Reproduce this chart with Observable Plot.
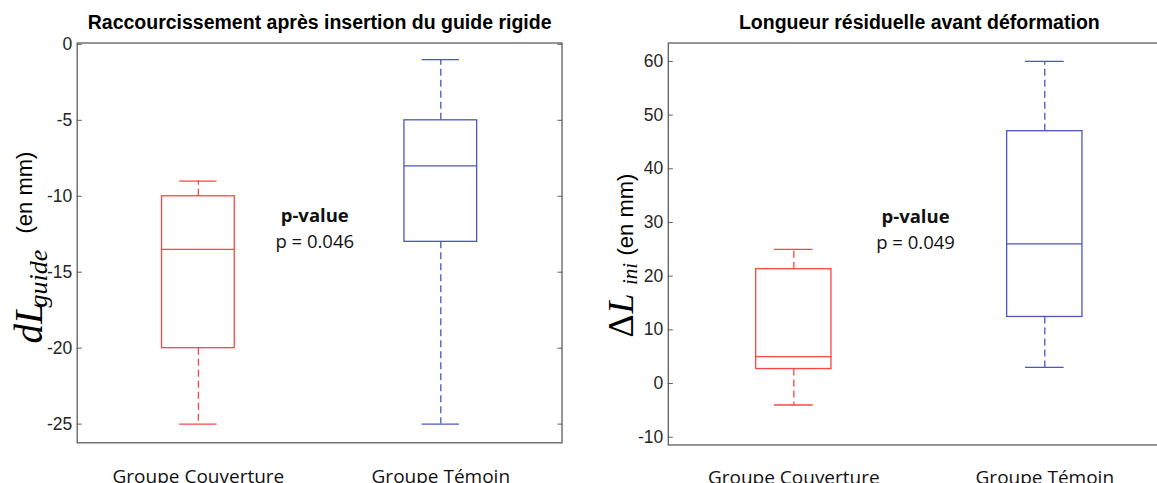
<!DOCTYPE html>
<html><head><meta charset="utf-8">
<script src="https://cdn.jsdelivr.net/npm/d3@7"></script>
<script src="https://cdn.jsdelivr.net/npm/@observablehq/plot@0.6"></script>
<style>
html,body{margin:0;padding:0;background:#fff;overflow:hidden;width:1157px;height:483px;}
#wrap{position:relative;width:1157px;height:483px;overflow:hidden;background:#fff;}
#left{position:absolute;left:0;top:0;width:580px;height:483px;}
#right{position:absolute;left:580px;top:0;width:600px;height:483px;}
#wrap svg{max-width:none !important;}
</style></head><body><div id="wrap"><div id="left"></div><div id="right"></div></div>
<script>
// ---- shared ----
const categories = ["Groupe Couverture", "Groupe Témoin"];
const colors = ["#ff4444", "#4a56c2"];

// ---- panel 1 : dL_guide ----
const guideTitle = "Raccourcissement après insertion du guide rigide";
const guideLower  = [-25, -25];
const guideQ1     = [-20, -13];
const guideMedian = [-13.5, -8];
const guideQ3     = [-10, -5];
const guideUpper  = [-9, -1];
const guideTicks  = [0, -5, -10, -15, -20, -25];
const guidePLabel = "p-value";
const guidePValue = "p = 0.046";

// ---- panel 2 : ΔL_ini ----
const iniTitle = "Longueur résiduelle avant déformation";
const iniLower  = [-4, 3];
const iniQ1     = [2.7, 12.4];
const iniMedian = [5, 26];
const iniQ3     = [21.3, 47];
const iniUpper  = [25, 60];
const iniTicks  = [60, 50, 40, 30, 20, 10, 0, -10];
const iniPLabel = "p-value";
const iniPValue = "p = 0.049";

const SANS = "'Liberation Sans', Arial, sans-serif";
const CAL = "'Open Sans', sans-serif";
const SERIF = "'Liberation Serif', 'Times New Roman', serif";
const AXIS = "#5e5e5e";

function panel(cfg) {
  const rows = categories.map((cat, i) => ({
    cat, pos: i + 1,
    lower: cfg.lower[i], q1: cfg.q1[i], median: cfg.median[i], q3: cfg.q3[i], upper: cfg.upper[i]
  }));
  const half = 0.15, cap = 0.077;
  const sw = 1.3;
  const svg = Plot.plot({
    width: cfg.width, height: 483,
    marginLeft: cfg.marginLeft, marginRight: cfg.marginRight,
    marginTop: 42.5, marginBottom: cfg.marginBottom,
    x: {type: "linear", domain: [0.5, 2.5], axis: null},
    y: {domain: cfg.yDomain, label: null},
    color: {domain: categories, range: colors},
    style: {fontFamily: SANS, fontSize: "16px", background: "white", overflow: "visible", maxWidth: "none"},
    marks: [
      Plot.ruleX(rows, {x: "pos", y1: "q3", y2: "upper", stroke: "cat", strokeWidth: sw, strokeDasharray: "7,4"}),
      Plot.ruleX(rows, {x: "pos", y1: "q1", y2: "lower", stroke: "cat", strokeWidth: sw, strokeDasharray: "7,4"}),
      Plot.ruleY(rows, {y: "upper", x1: d => d.pos - cap, x2: d => d.pos + cap, stroke: "cat", strokeWidth: sw}),
      Plot.ruleY(rows, {y: "lower", x1: d => d.pos - cap, x2: d => d.pos + cap, stroke: "cat", strokeWidth: sw}),
      Plot.rect(rows, {x1: d => d.pos - half, x2: d => d.pos + half, y1: "q1", y2: "q3", stroke: "cat", fill: "none", strokeWidth: sw}),
      Plot.ruleY(rows, {y: "median", x1: d => d.pos - half, x2: d => d.pos + half, stroke: "cat", strokeWidth: sw}),
      Plot.frame({stroke: AXIS, strokeWidth: 1.3}),
      Plot.axisY(cfg.ticks, {anchor: "left", tickSize: 0, tickPadding: 5, tickFormat: d => String(d), fontSize: 17.5, fill: "#262626", label: null}),
      Plot.axisY(cfg.ticks, {anchor: "left", tickSize: 5, dx: 5, tickFormat: () => "", label: null, stroke: AXIS}),
      Plot.axisY(cfg.ticks, {anchor: "right", tickSize: 5, dx: -5, tickFormat: () => "", label: null, stroke: AXIS}),
      // title
      Plot.text([cfg.title], {text: d => d, frameAnchor: "top", lineAnchor: "bottom", dy: -14.5, fontSize: 19.5, fontWeight: "bold", fontFamily: SANS, fill: "#000"}),
      // category labels
      Plot.text(rows, {x: "pos", text: "cat", frameAnchor: "bottom", lineAnchor: "top", dy: cfg.catDy, fontSize: 19, fontFamily: CAL, fill: "#111"}),
      // p-value annotation
      Plot.text([cfg.pLabel], {text: d => d, x: cfg.pX, y: cfg.pY1, fontSize: 18.5, fontWeight: "bold", fontFamily: CAL, fill: "#111"}),
      Plot.text([cfg.pValue], {text: d => d, x: cfg.pX, y: cfg.pY2, fontSize: 18.5, fontFamily: CAL, fill: "#111"}),
      // y label pieces
      ...cfg.ylabel.map((p, i) => Plot.text([p.t], {text: d => d, frameAnchor: "left", rotate: -90, textAnchor: "start", lineAnchor: "bottom",
        dx: p.dx, dy: p.dy, fontSize: p.fs, fontFamily: p.ff, fontStyle: p.fi ? "italic" : "normal", fill: "#000",
        ariaLabel: "ylab-" + i}))
    ]
  });
  // emulate the wider math glyph advances of the original label
  cfg.ylabel.forEach((p, i) => {
    svg.querySelectorAll(`g[aria-label="ylab-${i}"] text`).forEach(t => {
      if (p.len) { t.setAttribute("textLength", p.len); t.setAttribute("lengthAdjust", "spacingAndGlyphs"); }
    });
  });
  return svg;
}

const left = panel({
  title: guideTitle, lower: guideLower, q1: guideQ1, median: guideMedian, q3: guideQ3, upper: guideUpper,
  ticks: guideTicks, yDomain: [-26.23, 0.09],
  width: 580, marginLeft: 76.7, marginRight: 18.5, marginBottom: 40.7, catDy: 27,
  pLabel: guidePLabel, pValue: guidePValue, pX: 1.48, pY1: -11.33, pY2: -13.04,
  ylabel: [
    {t: "dL", dx: -35, dy: 100.6, fs: 39, ff: SERIF, fi: true, len: 37},
    {t: "guide", dx: -30.5, dy: 64.6, fs: 26, ff: SERIF, fi: true, len: 54},
    {t: "(en mm)", dx: -44.7, dy: -9.4, fs: 22, ff: SANS, fi: false, len: 80}
  ]
});
const right = panel({
  title: iniTitle, lower: iniLower, q1: iniQ1, median: iniMedian, q3: iniQ3, upper: iniUpper,
  ticks: iniTicks, yDomain: [-11.45, 63.43],
  width: 600, marginLeft: 87.8, marginRight: 10.2, marginBottom: 38.5, catDy: 25,
  pLabel: iniPLabel, pValue: iniPValue, pX: 1.485, pY1: 31.09, pY2: 26.25,
  ylabel: [
    {t: "Δ", dx: -35.8, dy: 93.5, fs: 36, ff: SERIF, fi: false, len: 26},
    {t: "L", dx: -35.8, dy: 69.5, fs: 36, ff: SERIF, fi: true, len: 26},
    {t: "ini", dx: -31.3, dy: 41, fs: 21, ff: SERIF, fi: true, len: 23},
    {t: "(en mm)", dx: -35.8, dy: 11.5, fs: 22, ff: SANS, fi: false, len: 82}
  ]
});
document.getElementById("left").appendChild(left);
document.getElementById("right").appendChild(right);
</script></body></html>
